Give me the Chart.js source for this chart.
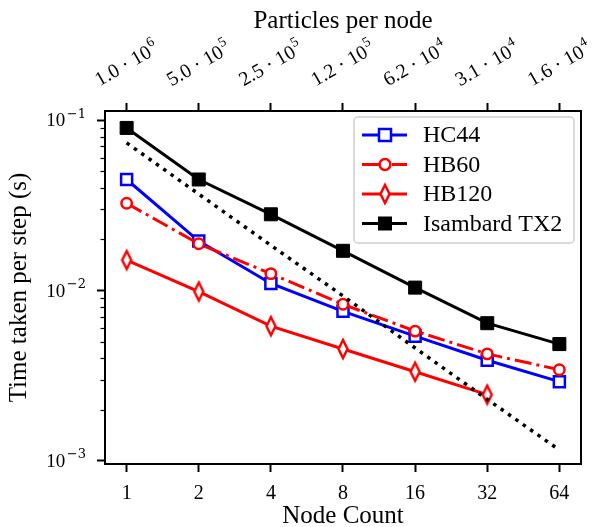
<!DOCTYPE html>
<html>
<head>
<meta charset="utf-8">
<script src="https://cdn.jsdelivr.net/npm/chart.js@4.4.0/dist/chart.umd.min.js"></script>
<style>
    html, body { margin: 0; padding: 0; background: #fff; }
</style>
</head>
<body>
<canvas id="tiemposChart" width="592" height="527"></canvas>
<script>

/* DATOS */

const nodos = [1, 2, 4, 8, 16, 32, 64];

// particulas por nodo: mantisa y exponente
const particulas = ['1.0', '5.0', '2.5', '1.2', '6.2', '3.1', '1.6'];
const particulasExp = ['6', '5', '5', '5', '4', '4', '4'];

const hc44 = [0.0448, 0.0195, 0.0110, 0.00755, 0.0054, 0.0039, 0.00292];

const hb60 = [0.0325, 0.0188, 0.01256, 0.0083, 0.00578, 0.00425, 0.00343];

const hb120 = [0.0151, 0.00986, 0.00618, 0.00454, 0.00334, 0.00245];

const isambard = [0.0899, 0.0448, 0.0280, 0.0171, 0.0104, 0.00643, 0.00485];

const ideal = [0.0735, 0.0368, 0.0184, 0.0093, 0.0046, 0.0023, 0.00116];

const valoresY = [0.001, 0.01, 0.1];

const exponentesY = ['−3', '−2', '−1'];

const menoresY = [];
[0.001, 0.01].forEach(d => {
    for (let k = 2; k <= 9; k++) menoresY.push(d * k);
});

const fuente = 'Liberation Serif';

function puntos(serie){
    return serie.map((v, i) => ({ x: nodos[i], y: v }));
}

/* MARCADOR DIAMANTE */

function diamante(){
    const c = document.createElement('canvas');
    c.width = 14;
    c.height = 24;
    const g = c.getContext('2d');
    g.beginPath();
    g.moveTo(7, 3);
    g.lineTo(11.5, 12);
    g.lineTo(7, 21);
    g.lineTo(2.5, 12);
    g.closePath();
    g.fillStyle = '#fff';
    g.fill();
    g.lineWidth = 2.5;
    g.strokeStyle = '#ff0000';
    g.stroke();
    return c;
}

const imgDiamante = diamante();

/* LEYENDA, ETIQUETAS Y MARCO */

const leyenda = [
    { texto: 'HC44', color: '#0000ff', dash: [], marca: 'cuadro' },
    { texto: 'HB60', color: '#ff0000', dash: [17, 5, 3, 5], marca: 'circulo' },
    { texto: 'HB120', color: '#ff0000', dash: [], marca: 'diamante' },
    { texto: 'Isambard TX2', color: '#000000', dash: [], marca: 'lleno' }
];

const marco = {
    id: 'marco',
    afterDraw(chart){
        const { ctx, chartArea: a, scales } = chart;
        ctx.save();

        // ticks menores eje y
        ctx.strokeStyle = '#000';
        ctx.lineWidth = 1.2;
        menoresY.forEach(v => {
            const py = Math.round(scales.y.getPixelForValue(v)) + 0.5;
            ctx.beginPath();
            ctx.moveTo(a.left - 4.5, py);
            ctx.lineTo(a.left, py);
            ctx.stroke();
        });

        // marco
        ctx.lineWidth = 2;
        ctx.strokeRect(a.left, a.top, a.right - a.left, a.bottom - a.top);

        // etiquetas eje y: 10 con exponente
        ctx.fillStyle = '#000';
        ctx.textBaseline = 'alphabetic';
        ctx.textAlign = 'left';
        valoresY.forEach((v, i) => {
            const py = scales.y.getPixelForValue(v);
            ctx.font = '13px "DejaVu Serif"';
            const ws = ctx.measureText(exponentesY[i]).width;
            ctx.font = '19px "' + fuente + '"';
            const wm = ctx.measureText('10').width;
            const xd = a.left - 19;
            ctx.fillText('10', xd - ws - 1.5 - wm, py + 6);
            ctx.font = '13px "DejaVu Serif"';
            ctx.fillText(exponentesY[i], xd - ws, py - 2.5);
        });

        // etiquetas eje superior, giradas 30 grados
        nodos.forEach((n, i) => {
            const px = scales.x2.getPixelForValue(n);
            const texto = particulas[i] + ' · 10';
            ctx.font = '20px "' + fuente + '"';
            const wm = ctx.measureText(texto).width;
            ctx.font = '14px "' + fuente + '"';
            const ws = ctx.measureText(particulasExp[i]).width;
            const w = wm + 1 + ws;
            ctx.save();
            ctx.translate(px, 64);
            ctx.rotate(-Math.PI / 6);
            ctx.font = '20px "' + fuente + '"';
            ctx.fillText(texto, -w / 2, 6);
            ctx.font = '14px "' + fuente + '"';
            ctx.fillText(particulasExp[i], -w / 2 + wm + 1, -3);
            ctx.restore();
        });

        // caja leyenda
        const bx = a.right - 227, by = a.top + 6, bw = 220, bh = 126;
        ctx.beginPath();
        ctx.roundRect(bx, by, bw, bh, 4);
        ctx.fillStyle = 'rgba(255,255,255,0.8)';
        ctx.fill();
        ctx.strokeStyle = '#d0d0d0';
        ctx.lineWidth = 1.5;
        ctx.stroke();

        leyenda.forEach((item, i) => {
            const y = by + 18 + i * 29.5;
            const mx = bx + 31;
            ctx.strokeStyle = item.color;
            ctx.lineWidth = 3;
            ctx.setLineDash(item.dash);
            ctx.beginPath();
            ctx.moveTo(bx + 8, y);
            ctx.lineTo(bx + 53, y);
            ctx.stroke();
            ctx.setLineDash([]);

            ctx.lineWidth = 2.5;
            if (item.marca === 'cuadro') {
                ctx.fillStyle = '#fff';
                ctx.fillRect(mx - 6, y - 6, 12, 12);
                ctx.strokeRect(mx - 6, y - 6, 12, 12);
            } else if (item.marca === 'circulo') {
                ctx.beginPath();
                ctx.arc(mx, y, 5.4, 0, Math.PI * 2);
                ctx.fillStyle = '#fff';
                ctx.fill();
                ctx.stroke();
            } else if (item.marca === 'diamante') {
                ctx.drawImage(imgDiamante, mx - 7, y - 12);
            } else {
                ctx.fillStyle = '#000';
                ctx.fillRect(mx - 7, y - 7, 14, 14);
            }

            ctx.fillStyle = '#000';
            ctx.font = '24px "' + fuente + '"';
            ctx.textBaseline = 'middle';
            ctx.textAlign = 'left';
            ctx.fillText(item.texto, bx + 69, y + 1);
            ctx.textBaseline = 'alphabetic';
        });

        ctx.restore();
    }
};

/* GRAFICO */

const ejeComun = {
    type: 'logarithmic',
    min: 0.8123,
    max: 78.79,
    afterBuildTicks: (s) => { s.ticks = nodos.map(v => ({ value: v })); },
    grid: { drawOnChartArea: false, drawTicks: true, tickLength: 8, tickWidth: 2, tickColor: '#000' },
    border: { display: false }
};

new Chart(document.getElementById('tiemposChart'), {

    type: 'line',

    data: {
        datasets: [{
            label: 'HC44',
            data: puntos(hc44),
            borderColor: '#0000ff',
            borderWidth: 3,
            pointStyle: 'rect',
            pointRadius: 7.8,
            pointBorderWidth: 2.5,
            pointBackgroundColor: '#fff',
            pointBorderColor: '#0000ff',
            order: 5
        }, {
            label: 'HB60',
            data: puntos(hb60),
            borderColor: '#ff0000',
            borderWidth: 3,
            borderDash: [17, 5, 3, 5],
            pointStyle: 'circle',
            pointRadius: 5.2,
            pointBorderWidth: 2.5,
            pointBackgroundColor: '#fff',
            pointBorderColor: '#ff0000',
            order: 4
        }, {
            label: 'HB120',
            data: puntos(hb120),
            borderColor: '#ff0000',
            borderWidth: 3,
            pointStyle: imgDiamante,
            pointRadius: 8,
            order: 3
        }, {
            label: 'Isambard TX2',
            data: puntos(isambard),
            borderColor: '#000',
            borderWidth: 3,
            pointStyle: 'rect',
            pointRadius: 9.2,
            pointBorderWidth: 1,
            pointBackgroundColor: '#000',
            pointBorderColor: '#000',
            order: 2
        }, {
            label: 'ideal',
            data: puntos(ideal),
            borderColor: '#000',
            borderWidth: 3.5,
            borderDash: [3.5, 5.5],
            pointRadius: 0,
            order: 1
        }]
    },

    options: {
        responsive: false,
        animation: false,
        layout: { padding: { left: 0, right: 11, top: 0, bottom: 0 } },
        plugins: {
            legend: { display: false },
            tooltip: { enabled: false }
        },
        scales: {
            x: Object.assign({}, ejeComun, {
                position: 'bottom',
                afterFit: (s) => { s.height = 63; s.paddingLeft = 0; s.paddingRight = 0; },
                ticks: {
                    autoSkip: false, maxRotation: 0, padding: 10, color: '#000',
                    font: { family: fuente, size: 20 },
                    callback: (v) => String(v)
                },
                title: {
                    display: true, text: 'Node Count', color: '#000',
                    font: { family: fuente, size: 25 }, padding: { bottom: -4 }
                }
            }),
            x2: Object.assign({}, ejeComun, {
                position: 'top',
                afterFit: (s) => { s.height = 111; s.paddingLeft = 0; s.paddingRight = 0; },
                ticks: { display: false },
                title: {
                    display: true, text: 'Particles per node', color: '#000',
                    font: { family: fuente, size: 25 }, padding: { top: 6 }
                }
            }),
            y: {
                type: 'logarithmic',
                position: 'left',
                min: 0.00096,
                max: 0.113,
                afterBuildTicks: (s) => { s.ticks = valoresY.map(v => ({ value: v })); },
                afterFit: (s) => { s.width = 105; s.paddingTop = 0; s.paddingBottom = 0; },
                grid: { drawOnChartArea: false, drawTicks: true, tickLength: 8, tickWidth: 2, tickColor: '#000' },
                border: { display: false },
                ticks: { display: false },
                title: {
                    display: true, text: 'Time taken per step (s)', color: '#000',
                    font: { family: fuente, size: 25 }, padding: { top: 4 }
                }
            }
        }
    },

    plugins: [marco]

});

</script>
</body>
</html>
